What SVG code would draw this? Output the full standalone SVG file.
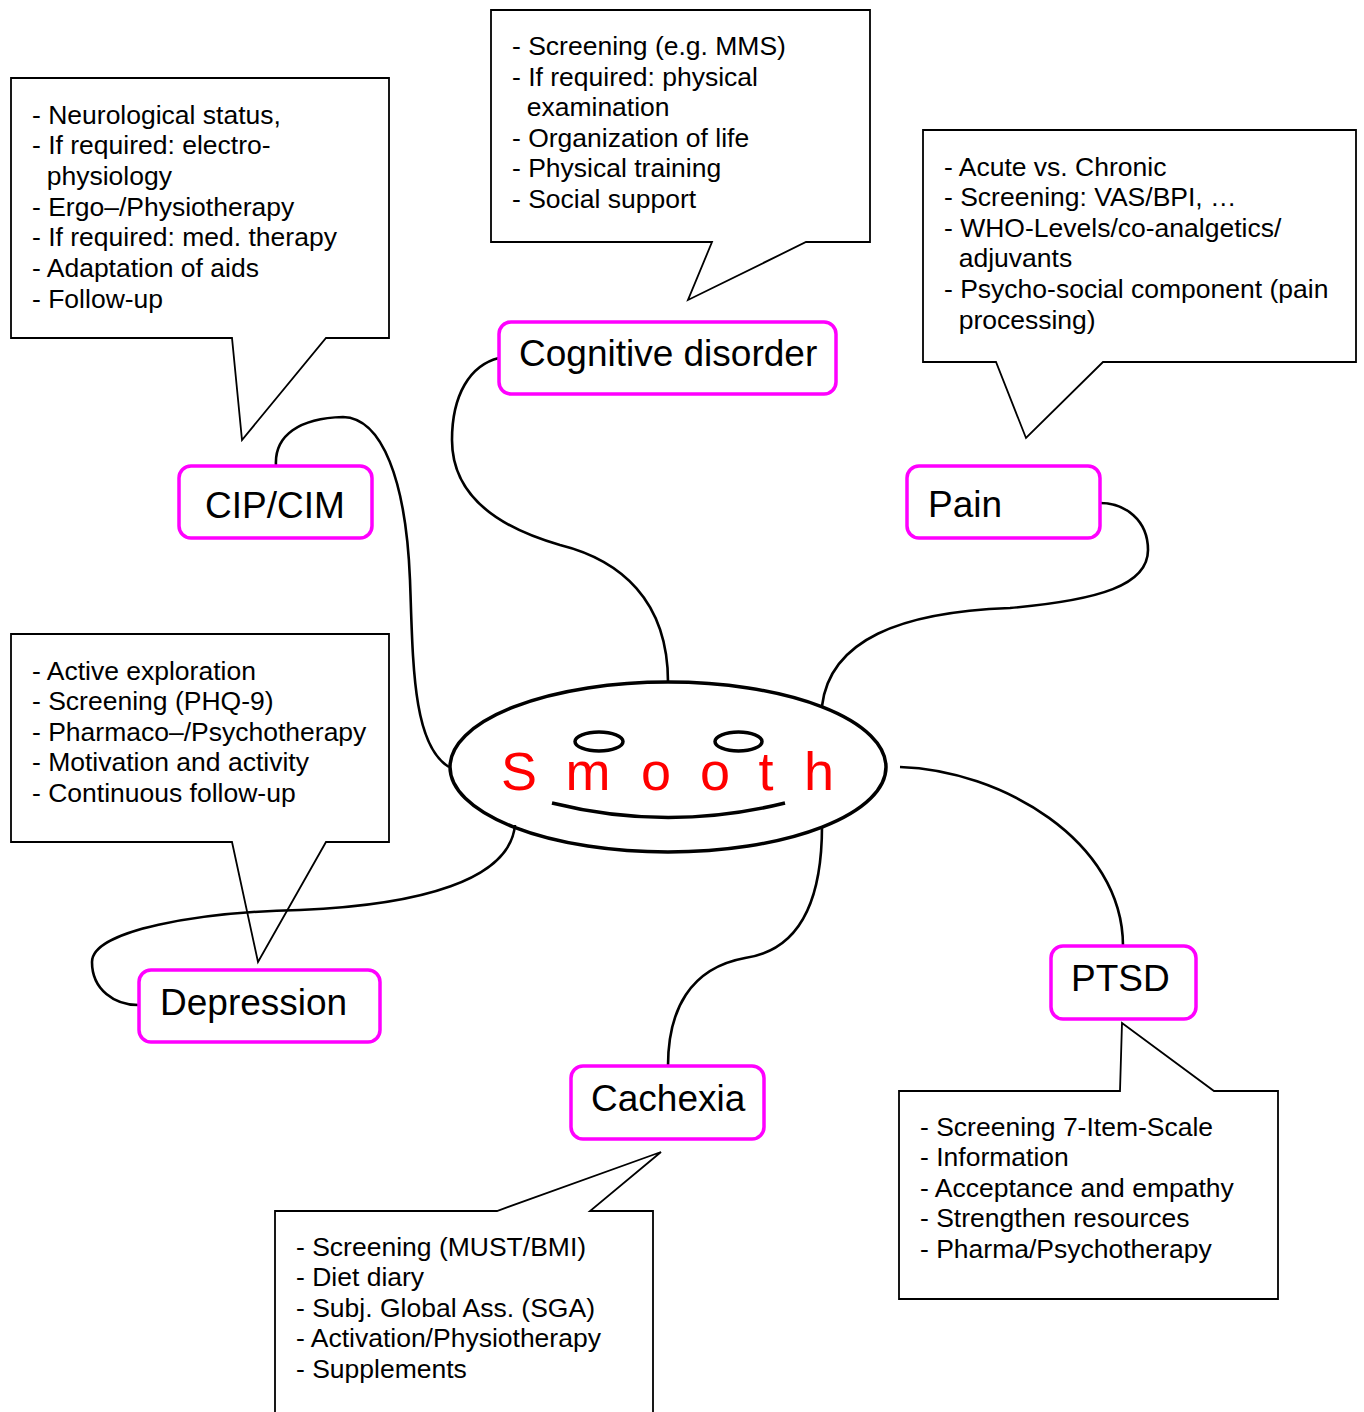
<svg xmlns="http://www.w3.org/2000/svg" width="1364" height="1412" viewBox="0 0 1364 1412">
  <style>
    .callout { fill: #ffffff; stroke: #000000; stroke-width: 1.8; stroke-linejoin: miter; }
    .ctext { font-family: "Liberation Sans", Arial, sans-serif; font-size: 26.5px; fill: #000000; }
    .node rect { fill: #ffffff; stroke: #ff00ff; stroke-width: 3.5; }
    .node text { font-family: "Liberation Sans", Arial, sans-serif; font-size: 37px; fill: #000000; }
    .link { fill: none; stroke: #000000; stroke-width: 2.6; }
    .face { fill: none; stroke: #000000; stroke-width: 3.5; }
    .smooth { font-family: "Liberation Sans", Arial, sans-serif; font-size: 54px; fill: #ff0000; text-anchor: middle; }
  </style>
  <rect width="1364" height="1412" fill="#ffffff"/>

  <!-- CIP/CIM notes -->
  <g id="cip-callout">
    <polygon class="callout" points="11,78 389,78 389,338 326,338 242,440 232,338 11,338"/>
    <text class="ctext">
      <tspan x="32" y="123.5">- Neurological status,</tspan>
      <tspan x="32" y="154.2">- If required: electro-</tspan>
      <tspan x="46.7" y="184.8">physiology</tspan>
      <tspan x="32" y="215.5">- Ergo–/Physiotherapy</tspan>
      <tspan x="32" y="246.2">- If required: med. therapy</tspan>
      <tspan x="32" y="276.8">- Adaptation of aids</tspan>
      <tspan x="32" y="307.5">- Follow-up</tspan>
    </text>
  </g>

  <!-- Cognitive disorder notes -->
  <g id="cognitive-callout">
    <polygon class="callout" points="491,10 870,10 870,242 806,242 688,300 712,242 491,242"/>
    <text class="ctext">
      <tspan x="512" y="55">- Screening (e.g. MMS)</tspan>
      <tspan x="512" y="85.6">- If required: physical</tspan>
      <tspan x="526.7" y="116.2">examination</tspan>
      <tspan x="512" y="146.8">- Organization of life</tspan>
      <tspan x="512" y="177.4">- Physical training</tspan>
      <tspan x="512" y="208">- Social support</tspan>
    </text>
  </g>

  <!-- Pain notes -->
  <g id="pain-callout">
    <polygon class="callout" points="923,130 1356,130 1356,362 1103,362 1026,438 996,362 923,362"/>
    <text class="ctext">
      <tspan x="944" y="175.5">- Acute vs. Chronic</tspan>
      <tspan x="944" y="206">- Screening: VAS/BPI, …</tspan>
      <tspan x="944" y="236.5">- WHO-Levels/co-analgetics/</tspan>
      <tspan x="958.7" y="267">adjuvants</tspan>
      <tspan x="944" y="298">- Psycho-social component (pain</tspan>
      <tspan x="958.7" y="328.5">processing)</tspan>
    </text>
  </g>

  <!-- Depression notes -->
  <g id="depression-callout">
    <polygon class="callout" points="11,634 389,634 389,842 326,842 258,962 232,842 11,842"/>
    <text class="ctext">
      <tspan x="32" y="679.5">- Active exploration</tspan>
      <tspan x="32" y="710">- Screening (PHQ-9)</tspan>
      <tspan x="32" y="740.5">- Pharmaco–/Psychotherapy</tspan>
      <tspan x="32" y="771">- Motivation and activity</tspan>
      <tspan x="32" y="802">- Continuous follow-up</tspan>
    </text>
  </g>

  <!-- Cachexia notes -->
  <g id="cachexia-callout">
    <polygon class="callout" points="275,1420 275,1211 497,1211 661,1152 590,1211 653,1211 653,1420"/>
    <text class="ctext">
      <tspan x="296" y="1255.5">- Screening (MUST/BMI)</tspan>
      <tspan x="296" y="1286">- Diet diary</tspan>
      <tspan x="296" y="1316.5">- Subj. Global Ass. (SGA)</tspan>
      <tspan x="296" y="1347">- Activation/Physiotherapy</tspan>
      <tspan x="296" y="1378">- Supplements</tspan>
    </text>
  </g>

  <!-- PTSD notes -->
  <g id="ptsd-callout">
    <polygon class="callout" points="899,1091 1120,1091 1122,1023 1214,1091 1278,1091 1278,1299 899,1299"/>
    <text class="ctext">
      <tspan x="920" y="1135.5">- Screening 7-Item-Scale</tspan>
      <tspan x="920" y="1166">- Information</tspan>
      <tspan x="920" y="1196.5">- Acceptance and empathy</tspan>
      <tspan x="920" y="1227">- Strengthen resources</tspan>
      <tspan x="920" y="1258">- Pharma/Psychotherapy</tspan>
    </text>
  </g>

  <!-- curved connectors from the centre to each topic -->
  <g id="connectors">
    <path class="link" d="M276,466 C274,435 300,418 343,417 C382,418 406,480 410,580 C413,660 412,745 449,767"/>
    <path class="link" d="M668,682 C668,600 620,560 560,545 C490,525 452,490 452,440 C452,395 470,365 499,358"/>
    <path class="link" d="M822,706 C830,640 900,612 1010,608 C1100,600 1148,585 1148,550 C1148,520 1125,503 1100,503"/>
    <path class="link" d="M515,825 C510,880 420,905 300,910 C200,912 92,930 92,962 C92,990 115,1005 138,1005"/>
    <path class="link" d="M822,826 C822,900 800,950 745,958 C690,968 668,1010 668,1066"/>
    <path class="link" d="M900,767 C1000,770 1123,840 1123,946"/>
  </g>

  <!-- centre: smiling face -->
  <g id="smooth">
    <ellipse class="face" cx="668" cy="767" rx="218" ry="85"/>
    <ellipse class="face" cx="599" cy="741.5" rx="24" ry="9.5"/>
    <ellipse class="face" cx="738.5" cy="741.5" rx="23.5" ry="9.5"/>
    <path class="face" d="M552,803 Q668,832 785,803"/>
    <text class="smooth" x="519" y="790">S</text>
    <text class="smooth" x="588" y="790">m</text>
    <text class="smooth" x="656" y="790">o</text>
    <text class="smooth" x="715" y="790">o</text>
    <text class="smooth" x="766" y="790">t</text>
    <text class="smooth" x="819" y="790">h</text>
  </g>

  <!-- topic nodes -->
  <g id="cip" class="node">
    <rect x="179" y="466" width="193" height="72" rx="12"/>
    <text x="205" y="518">CIP/CIM</text>
  </g>
  <g id="cognitive" class="node">
    <rect x="499" y="322" width="337" height="72" rx="12"/>
    <text x="519" y="366">Cognitive disorder</text>
  </g>
  <g id="pain" class="node">
    <rect x="907" y="466" width="193" height="72" rx="12"/>
    <text x="928" y="517">Pain</text>
  </g>
  <g id="depression" class="node">
    <rect x="139" y="970" width="241" height="72" rx="12"/>
    <text x="160" y="1015">Depression</text>
  </g>
  <g id="cachexia" class="node">
    <rect x="571" y="1066" width="193" height="73" rx="12"/>
    <text x="591" y="1111">Cachexia</text>
  </g>
  <g id="ptsd" class="node">
    <rect x="1051" y="946" width="145" height="73" rx="12"/>
    <text x="1071" y="991">PTSD</text>
  </g>
</svg>
